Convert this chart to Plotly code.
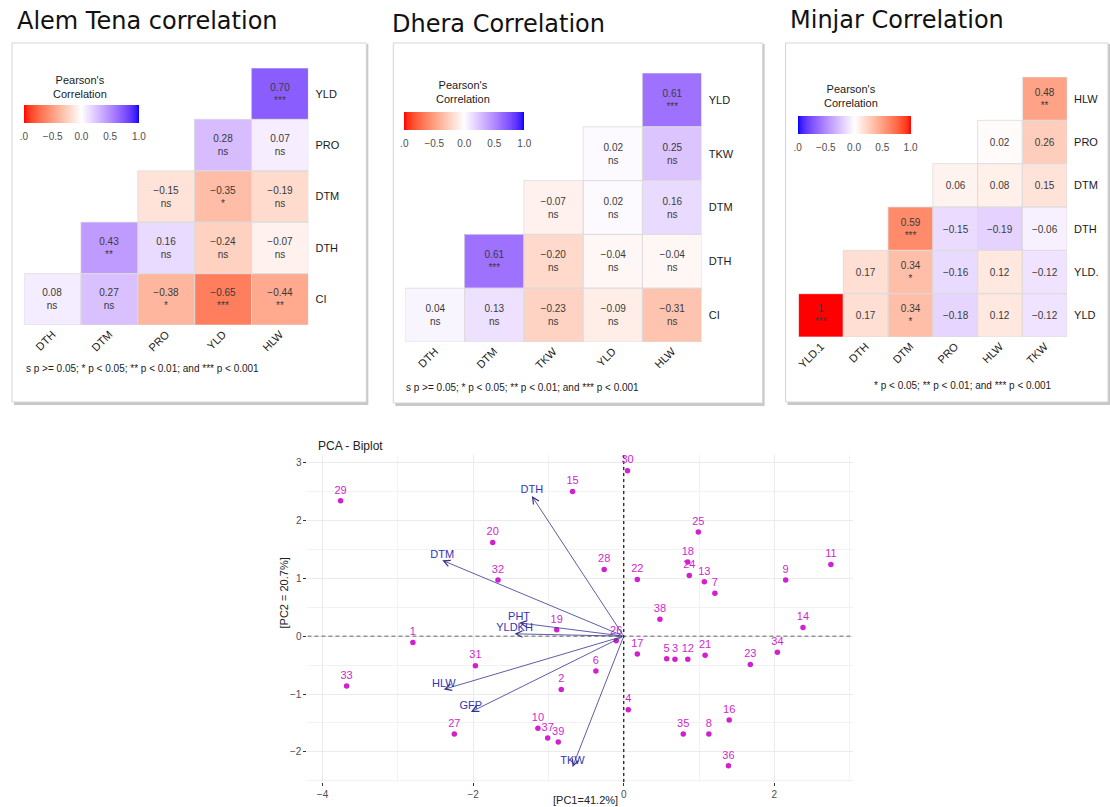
import plotly.graph_objects as go

W, H = 1110, 807

# ---------------- correlation data ----------------
# Alem Tena (lower triangle, rows listed top to bottom)
at_cols = ["DTH", "DTM", "PRO", "YLD", "HLW"]
at_rows = ["YLD", "PRO", "DTM", "DTH", "CI"]
at_r = [
    [None, None, None, None, 0.70],
    [None, None, None, 0.28, 0.07],
    [None, None, -0.15, -0.35, -0.19],
    [None, 0.43, 0.16, -0.24, -0.07],
    [0.08, 0.27, -0.38, -0.65, -0.44],
]
at_sig = [
    [None, None, None, None, "***"],
    [None, None, None, "ns", "ns"],
    [None, None, "ns", "*", "ns"],
    [None, "**", "ns", "ns", "ns"],
    ["ns", "ns", "*", "***", "**"],
]

# Dhera
dh_cols = ["DTH", "DTM", "TKW", "YLD", "HLW"]
dh_rows = ["YLD", "TKW", "DTM", "DTH", "CI"]
dh_r = [
    [None, None, None, None, 0.61],
    [None, None, None, 0.02, 0.25],
    [None, None, -0.07, 0.02, 0.16],
    [None, 0.61, -0.20, -0.04, -0.04],
    [0.04, 0.13, -0.23, -0.09, -0.31],
]
dh_sig = [
    [None, None, None, None, "***"],
    [None, None, None, "ns", "ns"],
    [None, None, "ns", "ns", "ns"],
    [None, "***", "ns", "ns", "ns"],
    ["ns", "ns", "ns", "ns", "ns"],
]

# Minjar
mj_cols = ["YLD.1", "DTH", "DTM", "PRO", "HLW", "TKW"]
mj_rows = ["HLW", "PRO", "DTM", "DTH", "YLD.", "YLD"]
mj_r = [
    [None, None, None, None, None, 0.48],
    [None, None, None, None, 0.02, 0.26],
    [None, None, None, 0.06, 0.08, 0.15],
    [None, None, 0.59, -0.15, -0.19, -0.06],
    [None, 0.17, 0.34, -0.16, 0.12, -0.12],
    [1.0, 0.17, 0.34, -0.18, 0.12, -0.12],
]
mj_sig = [
    [None, None, None, None, None, "**"],
    [None, None, None, None, "", ""],
    [None, None, None, "", "", ""],
    [None, None, "***", "", "", ""],
    [None, "", "*", "", "", ""],
    ["***", "", "*", "", "", ""],
]

# ---------------- PCA data ----------------
geno_id = [str(i) for i in range(1, 40)]
pc1 = [-2.80, -0.83, 0.68, 0.06, 0.57, -0.37, 1.21, 1.13, 2.15, -1.14,
       2.75, 0.85, 1.07, 2.38, -0.68, 1.40, 0.18, 0.85, -0.89, -1.74,
       1.08, 0.18, 1.68, 0.87, 0.99, -0.10, -2.25, -0.26, -3.76, 0.05,
       -1.97, -1.67, -3.68, 2.04, 0.79, 1.39, -1.01, 0.48, -0.87]
pc2 = [-0.11, -0.92, -0.40, -1.27, -0.39, -0.60, 0.74, -1.69, 0.97, -1.59,
       1.24, -0.40, 0.94, 0.15, 2.50, -1.45, -0.31, 1.28, 0.11, 1.62,
       -0.33, 0.98, -0.49, 1.05, 1.80, -0.08, -1.69, 1.15, 2.34, 2.86,
       -0.51, 0.97, -0.86, -0.28, -1.69, -2.24, -1.76, 0.29, -1.83]

var_names = ["DTH", "DTM", "PHT", "YLDKH", "HLW", "GFP", "TKW"]
var_pc1 = [-1.22, -2.41, -1.39, -1.45, -2.39, -2.03, -0.68]
var_pc2 = [2.42, 1.31, 0.23, 0.04, -0.92, -1.31, -2.26]

# ---------------- colour helpers (Lab interpolation) ----------------
WP = (0.95047, 1.0, 1.08883)


def _lin(c):
    c = c / 255.0
    return c / 12.92 if c <= 0.04045 else ((c + 0.055) / 1.055) ** 2.4


def _gam(c):
    c = min(max(c, 0.0), 1.0)
    v = 12.92 * c if c <= 0.0031308 else 1.055 * c ** (1 / 2.4) - 0.055
    return int(round(v * 255))


def rgb_to_lab(rgb):
    r, g, b = (_lin(v) for v in rgb)
    X = 0.4124 * r + 0.3576 * g + 0.1805 * b
    Y = 0.2126 * r + 0.7152 * g + 0.0722 * b
    Z = 0.0193 * r + 0.1192 * g + 0.9505 * b

    def f(t):
        return t ** (1 / 3) if t > 216 / 24389 else (24389 / 27 * t + 16) / 116

    fx, fy, fz = f(X / WP[0]), f(Y / WP[1]), f(Z / WP[2])
    return (116 * fy - 16, 500 * (fx - fy), 200 * (fy - fz))


def lab_to_rgb(lab):
    L, a, b = lab
    fy = (L + 16) / 116
    fx = fy + a / 500
    fz = fy - b / 200

    def finv(t):
        return t ** 3 if t ** 3 > 216 / 24389 else (116 * t - 16) / (24389 / 27)

    X, Y, Z = WP[0] * finv(fx), WP[1] * finv(fy), WP[2] * finv(fz)
    r = 3.2406 * X - 1.5372 * Y - 0.4986 * Z
    g = -0.9689 * X + 1.8758 * Y + 0.0415 * Z
    bb = 0.0557 * X - 0.2040 * Y + 1.0570 * Z
    return (_gam(r), _gam(g), _gam(bb))


def diverging(low, mid, high, n=41):
    lo, mi, hi = rgb_to_lab(low), rgb_to_lab(mid), rgb_to_lab(high)
    scale = []
    for i in range(n):
        t = i / (n - 1)
        if t <= 0.5:
            s, a, b = t / 0.5, lo, mi
        else:
            s, a, b = (t - 0.5) / 0.5, mi, hi
        lab = tuple(a[k] + (b[k] - a[k]) * s for k in range(3))
        r, g, bl = lab_to_rgb(lab)
        scale.append([t, f"rgb({r},{g},{bl})"])
    return scale


RED, WHITE, BLUE = (255, 0, 0), (255, 255, 255), (0, 0, 255)
scale_rb = diverging(RED, WHITE, BLUE)   # negative red, positive blue
scale_br = diverging(BLUE, WHITE, RED)   # negative blue, positive red


def fmt(v):
    if v is None:
        return ""
    if abs(v - 1.0) < 1e-9:
        return "1"
    return f"{v:.2f}".replace("-", "\u2212")


def cell_text(r, sig):
    out = []
    for rr, ss in zip(r, sig):
        row = []
        for v, s in zip(rr, ss):
            if v is None:
                row.append("")
            elif s:
                row.append(f"{fmt(v)}<br>{s}")
            else:
                row.append(fmt(v))
        out.append(row)
    return out


def px(x):
    return x / W


def py(y):
    return 1 - y / H


fig = go.Figure()

FONT = "Liberation Sans, Arial, sans-serif"
shapes = []
annotations = []

# ---------------- panel frames ----------------
frames = [(10, 43, 365, 402), (392, 43, 762, 403), (785, 43, 1108, 402)]
for (x0, y0, x1, y1) in frames:
    shapes.append(dict(type="rect", xref="paper", yref="paper",
                       x0=px(x0 + 2), x1=px(x1 + 2), y0=py(y1 + 3), y1=py(y0 + 1),
                       line=dict(width=0), fillcolor="#C8C8C8", layer="below"))
    shapes.append(dict(type="rect", xref="paper", yref="paper",
                       x0=px(x0), x1=px(x1), y0=py(y1), y1=py(y0),
                       line=dict(width=1, color="#D4D4D4"), fillcolor="white", layer="below"))

# ---------------- heatmaps ----------------
panels = [
    dict(cols=at_cols, rows=at_rows, r=at_r, sig=at_sig, ax="", cax="coloraxis",
         dom_x=(22, 307), dom_y=(68, 325)),
    dict(cols=dh_cols, rows=dh_rows, r=dh_r, sig=dh_sig, ax="2", cax="coloraxis2",
         dom_x=(404, 701), dom_y=(73, 342)),
    dict(cols=mj_cols, rows=mj_rows, r=mj_r, sig=mj_sig, ax="3", cax="coloraxis3",
         dom_x=(798, 1067), dom_y=(77, 337)),
]

layout_axes = {}
for p in panels:
    xa, ya = "x" + p["ax"], "y" + p["ax"]
    fig.add_trace(go.Heatmap(
        z=p["r"], x=p["cols"], y=p["rows"],
        text=cell_text(p["r"], p["sig"]), texttemplate="%{text}",
        textfont=dict(size=10, color="#3a3a3a", family=FONT),
        coloraxis=p["cax"], xaxis=xa, yaxis=ya, hoverongaps=False,
    ))
    # grey cell outlines
    for i, rr in enumerate(p["r"]):
        for j, v in enumerate(rr):
            if v is None:
                continue
            shapes.append(dict(type="rect", xref=xa, yref=ya,
                               x0=j - 0.5, x1=j + 0.5, y0=i - 0.5, y1=i + 0.5,
                               line=dict(width=0.8, color="#DCDCDC"), layer="above"))
    nx, ny = len(p["cols"]), len(p["rows"])
    layout_axes["xaxis" + p["ax"]] = dict(
        domain=[px(p["dom_x"][0]), px(p["dom_x"][1])], anchor=ya,
        type="category", categoryorder="array", categoryarray=p["cols"],
        range=[-0.5, nx - 0.5], tickangle=-45, showgrid=False, zeroline=False,
        showline=False, ticks="", tickfont=dict(size=11, color="#1a1a1a", family=FONT),
        fixedrange=True)
    layout_axes["yaxis" + p["ax"]] = dict(
        domain=[py(p["dom_y"][1]), py(p["dom_y"][0])], anchor=xa, side="right",
        type="category", categoryorder="array", categoryarray=p["rows"],
        range=[ny - 0.5, -0.5], showgrid=False, zeroline=False, showline=False,
        ticks="", ticklabelstandoff=6,
        tickfont=dict(size=11, color="#1a1a1a", family=FONT), fixedrange=True)


def cbar(x0, y0, length):
    return dict(orientation="h", x=px(x0), xanchor="left", y=py(y0), yanchor="top",
                len=length, lenmode="pixels", thickness=18, thicknessmode="pixels",
                outlinewidth=0, tickvals=[-1, -0.5, 0, 0.5, 1],
                ticktext=[".0", "\u22120.5", "0.0", "0.5", "1.0"],
                ticks="outside", ticklen=5, tickcolor="rgba(255,255,255,0)",
                tickfont=dict(size=10, color="#4d4d4d", family=FONT), xpad=0, ypad=0)


layout_axes["coloraxis"] = dict(colorscale=scale_rb, cmin=-1, cmax=1, colorbar=cbar(22, 105, 115))
layout_axes["coloraxis2"] = dict(colorscale=scale_rb, cmin=-1, cmax=1, colorbar=cbar(403, 112, 120))
layout_axes["coloraxis3"] = dict(colorscale=scale_br, cmin=-1, cmax=1, colorbar=cbar(797, 116, 113))

# legend titles
for (cx, cy) in [(78, 87), (462, 92), (851, 96)]:
    annotations.append(dict(xref="paper", yref="paper", x=px(cx), y=py(cy),
                            text="Pearson's<br>Correlation", showarrow=False,
                            font=dict(size=11, color="#1a1a1a", family=FONT),
                            xanchor="center", yanchor="middle"))

# significance footnotes
foot_full = "s p >= 0.05; * p < 0.05; ** p < 0.01; and *** p < 0.001"
annotations.append(dict(xref="paper", yref="paper", x=px(22), y=py(368), text=foot_full,
                        showarrow=False, xanchor="left", yanchor="middle",
                        font=dict(size=10, color="#1a1a1a", family=FONT)))
annotations.append(dict(xref="paper", yref="paper", x=px(403), y=py(388), text=foot_full,
                        showarrow=False, xanchor="left", yanchor="middle",
                        font=dict(size=10, color="#1a1a1a", family=FONT)))
annotations.append(dict(xref="paper", yref="paper", x=px(963), y=py(385),
                        text="* p < 0.05; ** p < 0.01; and *** p < 0.001",
                        showarrow=False, xanchor="center", yanchor="middle",
                        font=dict(size=10, color="#1a1a1a", family=FONT)))

# panel titles
TFONT = "DejaVu Sans, sans-serif"
for (tx, ty, txt) in [(13, 21, "Alem Tena correlation"), (389, 24, "Dhera Correlation"),
                      (787, 20, "Minjar Correlation")]:
    annotations.append(dict(xref="paper", yref="paper", x=px(tx), y=py(ty), text=txt,
                            showarrow=False, xanchor="left", yanchor="middle",
                            font=dict(size=24, color="#111111", family=TFONT)))

# ---------------- PCA biplot ----------------
IND_COL = "#D21FCF"
VAR_LINE = "#35358C"
VAR_TXT = "#3434B4"

# reference lines through the origin (drawn as traces, under the points)
fig.add_trace(go.Scatter(x=[-4.2, 3.05], y=[0, 0], mode="lines",
                         line=dict(color="#555555", width=0.9, dash="4px,3px"),
                         xaxis="x4", yaxis="y4", hoverinfo="skip"))
fig.add_trace(go.Scatter(x=[0, 0], y=[-2.52, 3.13], mode="lines",
                         line=dict(color="#111111", width=1.2, dash="dot"),
                         xaxis="x4", yaxis="y4", hoverinfo="skip"))

fig.add_trace(go.Scatter(
    x=pc1, y=pc2, text=geno_id, mode="markers+text", textposition="top center",
    marker=dict(size=5.5, color=IND_COL), cliponaxis=False,
    textfont=dict(size=11, color=IND_COL, family=FONT), xaxis="x4", yaxis="y4",
    hoverinfo="text"))

fig.add_trace(go.Scatter(
    x=var_pc1, y=var_pc2, text=var_names, mode="text", textposition="top center",
    textfont=dict(size=11, color=VAR_TXT, family=FONT), xaxis="x4", yaxis="y4",
    cliponaxis=False, hoverinfo="text"))

for vx, vy in zip(var_pc1, var_pc2):
    annotations.append(dict(x=vx, y=vy, ax=0, ay=0, xref="x4", yref="y4",
                            axref="x4", ayref="y4", text="", showarrow=True,
                            arrowhead=5, arrowsize=1.6, arrowwidth=0.8,
                            arrowcolor=VAR_LINE, standoff=0, startstandoff=0))

layout_axes["xaxis4"] = dict(
    domain=[px(306), px(853)], anchor="y4", range=[-4.2, 3.05],
    tickvals=[-4, -2, 0, 2], showgrid=True, gridcolor="#EBEBEB", gridwidth=1,
    minor=dict(tickvals=[-3, -1, 1, 3], showgrid=True, gridcolor="#F2F2F2", gridwidth=0.6),
    zeroline=False, showline=False, ticks="outside", ticklen=3, tickcolor="#333333",
    tickfont=dict(size=10, color="#4d4d4d", family=FONT), fixedrange=True)
layout_axes["yaxis4"] = dict(
    domain=[py(782), py(455)], anchor="x4", range=[-2.52, 3.13],
    tickvals=[-2, -1, 0, 1, 2, 3], showgrid=True, gridcolor="#EBEBEB", gridwidth=1,
    minor=dict(tickvals=[-2.5, -1.5, -0.5, 0.5, 1.5, 2.5], showgrid=True,
               gridcolor="#F2F2F2", gridwidth=0.6),
    zeroline=False, showline=False, ticks="outside", ticklen=3, tickcolor="#333333",
    tickfont=dict(size=10, color="#4d4d4d", family=FONT), fixedrange=True)

annotations.append(dict(xref="paper", yref="paper", x=px(315), y=py(446), text="PCA - Biplot",
                        showarrow=False, xanchor="left", yanchor="middle",
                        font=dict(size=12, color="#222222", family=FONT)))
annotations.append(dict(xref="paper", yref="paper", x=px(585), y=py(800), text="[PC1=41.2%]",
                        showarrow=False, xanchor="center", yanchor="middle",
                        font=dict(size=11, color="#222222", family=FONT)))
annotations.append(dict(xref="paper", yref="paper", x=px(283), y=py(593), text="[PC2 = 20.7%]",
                        showarrow=False, xanchor="center", yanchor="middle", textangle=-90,
                        font=dict(size=11, color="#222222", family=FONT)))

fig.update_layout(
    width=W, height=H, margin=dict(l=0, r=0, t=0, b=0),
    paper_bgcolor="white", plot_bgcolor="rgba(0,0,0,0)",
    showlegend=False, shapes=shapes, annotations=annotations,
    **layout_axes,
)

fig.write_html("out.html")
